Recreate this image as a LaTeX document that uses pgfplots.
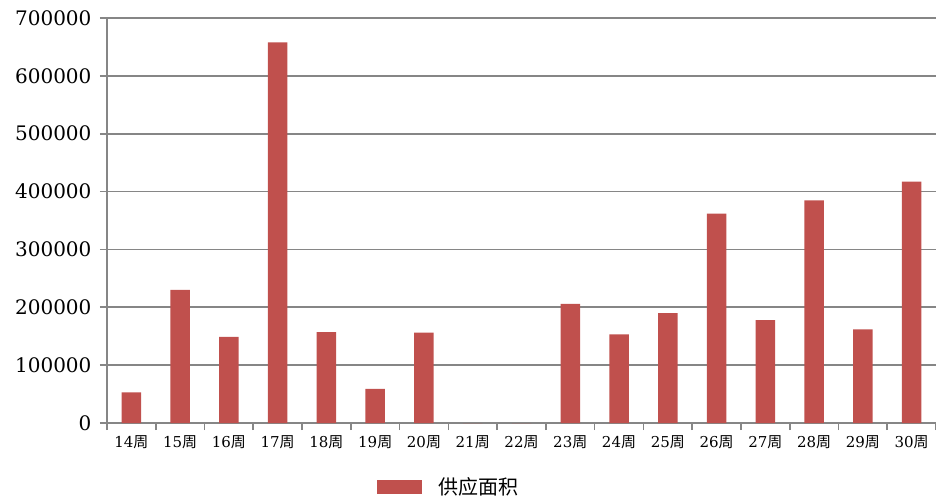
\documentclass[border=0pt]{standalone}
\usepackage{fontspec}
\usepackage{pgfplots}
\pgfplotsset{compat=1.18}
\setmainfont{DejaVu Serif}
\newfontfamily\cjk{Noto Sans CJK SC}
\definecolor{barred}{HTML}{C0504D}
\definecolor{gridgray}{HTML}{868686}
\newcommand\wk[1]{#1{\cjk 周}}

\pgfplotstableread{
x  week  area
0  14    53000
1  15    230000
2  16    149000
3  17    658000
4  18    157000
5  19    59000
6  20    156000
7  21    0
8  22    0
9  23    206000
10 24    153000
11 25    190000
12 26    362000
13 27    178000
14 28    385000
15 29    162000
16 30    417000
}\supply

\begin{document}
\begin{tikzpicture}
\path[use as bounding box] (-107pt,-75pt) rectangle (829pt,423pt);
\begin{axis}[
    scale only axis,
    width=829pt, height=405pt,
    xmin=-0.5, xmax=16.5,
    ymin=0, ymax=700000,
    axis x line*=bottom, axis y line*=left,
    axis line style={gridgray, line width=1.8pt, -},
    xtick={0,...,16},
    xticklabels={\wk{14},\wk{15},\wk{16},\wk{17},\wk{18},\wk{19},\wk{20},\wk{21},\wk{22},\wk{23},\wk{24},\wk{25},\wk{26},\wk{27},\wk{28},\wk{29},\wk{30}},
    major x tick style={draw=none},
    minor xtick={-0.5,0.5,...,16.5},
    minor x tick style={gridgray, line width=1.6pt},
    minor tick length=7pt,
    ytick={0,100000,...,700000},
    major y tick style={gridgray, line width=1.6pt},
    major tick length=7pt,
    tick align=outside,
    ymajorgrids,
    grid style={gridgray, line width=1.6pt},
    scaled y ticks=false,
    yticklabel={\pgfmathprintnumber[fixed,precision=0,1000 sep={},assume math mode=true]{\tick}},
    yticklabel style={font=\fontsize{20}{24}\selectfont, xshift=-5pt},
    xticklabel style={font=\fontsize{15}{18}\selectfont, yshift=-2pt},
    legend style={at={(axis description cs:0.412,-0.158)}, anchor=center, draw=none,
        font=\fontsize{20}{24}\selectfont\cjk, legend cell align=left,
        /tikz/every odd column/.append style={column sep=14pt}},
    legend image code/.code={\fill[barred] (0pt,-7pt) rectangle (45pt,7pt);},
]
\addplot[ybar, bar width=19.5pt, fill=barred, draw=none] table[x=x, y=area] {\supply};
\addlegendentry{供应面积}
\end{axis}
\end{tikzpicture}
\end{document}
